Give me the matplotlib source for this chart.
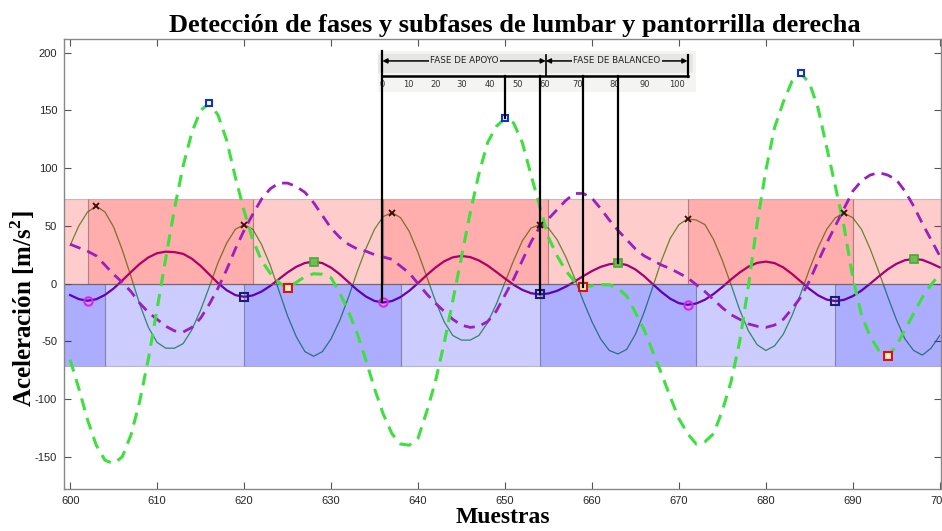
import matplotlib
matplotlib.use("Agg")
import matplotlib.pyplot as plt
from matplotlib.patches import Rectangle

plt.rcParams['mathtext.fontset'] = 'custom'
plt.rcParams['mathtext.rm'] = 'Liberation Serif:bold'
plt.rcParams['mathtext.bf'] = 'Liberation Serif:bold'
plt.rcParams['axes.unicode_minus'] = False

muestras = list(range(600, 701))

# pantorrilla (linea verde fina)
pantorrilla = [33, 50, 62, 67, 62, 49, 29, 6, -18, -38,
               -51, -56, -56, -52, -40, -23, -3, 18, 35, 47,
               51, 47, 34, 16, -6, -28, -46, -59, -63, -59,
               -48, -32, -12, 10, 30, 47, 58, 61.5, 57, 45,
               27, 6, -15, -33, -45, -49, -49, -45, -34, -18,
               1, 20, 37, 48, 51, 48, 38, 23, 5, -15,
               -33, -48, -58, -61, -57, -44, -25, -3, 20, 39,
               51, 56, 55, 51, 38, 20, -1, -23, -41, -53,
               -58, -54, -44, -28, -9, 12, 31, 47, 57, 61,
               57, 47, 30, 10, -11, -31, -48, -58, -62, -56,
               -45]

# lumbar (linea morada gruesa)
lumbar = [-10, -13.5, -14.9, -13.6, -9.9, -4.3, 2.7, 10, 17, 22.6,
          26.3, 27.6, 27.2, 25.7, 21.5, 15.3, 7.9, 0.4, -5.8, -10,
          -11.5, -10.3, -7, -2.1, 3.8, 9.6, 14.5, 17.8, 19, 17.7,
          13.8, 8.1, 1.3, -5.5, -11.2, -15.1, -16.4, -15.2, -11.7, -6.3,
          0.3, 7.3, 13.8, 19.2, 22.7, 23.9, 22.9, 20, 15.6, 10.1,
          4.4, -1.1, -5.5, -8.4, -9.4, -8.6, -6.3, -2.7, 1.7, 6.4,
          10.8, 14.4, 16.7, 17.5, 16.1, 12.2, 6.4, -0.5, -7.3, -13.1,
          -17, -18.4, -17.3, -14, -9, -3, 3.6, 9.6, 14.6, 17.9,
          19, 17.7, 14, 8.4, 1.9, -4.6, -10.2, -13.9, -15.2, -14.1,
          -10.9, -6.1, -0.1, 6.2, 12.2, 17, 20.2, 21.3, 20.5, 17.5,
          14]

# pantorrilla 2 (verde discontinua)
pantorrilla_d = [-66, -91, -118, -140, -153, -156, -150, -131, -102, -65,
                 -22, 22, 65, 102, 131, 150, 156, 146, 124, 92,
                 63, 38, 20, 9, 1, -4, 1, 6, 8.5, 8,
                 5, -8, -24, -43, -66, -91, -113, -130, -139, -140,
                 -134, -111, -85, -52, -15, 23, 61, 95, 122, 136,
                 143, 139, 122, 94, 67, 40, 24, 11, 2, -3,
                 -2, -1, -1, -4, -11, -25, -40, -59, -78, -98,
                 -117, -130, -139, -137, -130, -110, -85, -50, -2, 52,
                 98, 135, 157, 175, 182, 174, 152, 118, 84, 49,
                 5, -27, -46, -58, -63, -54, -40, -26, -12, -1,
                 8]

# lumbar 2 (morada discontinua)
lumbar_d = [34, 31, 28, 24, 16, 8, 1, -7, -17, -25,
            -31, -37, -41, -42, -38, -30, -18, -4, 12, 30,
            46, 60, 73, 82, 87, 87, 84, 79, 70, 59,
            48, 40, 34, 30, 28, 25, 23, 21, 15, 9,
            0, -9, -17, -24, -31, -36, -38, -37, -33, -24,
            -10, 4, 20, 36, 49, 56, 64, 72, 78, 78,
            74, 65, 55, 46, 38, 30, 24, 20, 16, 13,
            9, 5, -1, -7, -14, -21, -27, -31, -35, -37,
            -38, -36, -31, -22, -12, 2, 19, 35, 50, 65,
            80, 89, 94, 96, 94, 90, 80, 67, 52, 38,
            24]

# fases
bordes_rojo = [599, 602, 621, 636, 655, 671, 690, 701]
bordes_azul = [599, 604, 620, 638, 654, 672, 688, 701]
umbral_sup = 73.5
umbral_inf = -71

# eventos detectados
pico_pant = [603, 620, 637, 654, 671, 689]
valle_lumbar_o = [602, 636, 671]
valle_lumbar_s = [620, 654, 688]
pico_lumbar = [628, 663, 697]
pico_pant_d = [616, 650, 684]
valle_pant_d = [625, 659, 694]
lineas_evento = [650, 654, 659, 663]

# esquema del ciclo de marcha
ciclo_x = [635.9, 638.9, 642.0, 645.0, 648.3, 651.5, 654.6, 658.4, 662.6, 666.1, 669.8]
ciclo_lbl = ['0', '10', '20', '30', '40', '50', '60', '70', '80', '90', '100']


def val(serie, m):
    return serie[muestras.index(m)]


fig = plt.figure(figsize=(9.42, 5.31), dpi=100)
ax = fig.add_axes([0.068, 0.079, 0.931, 0.848])

ax.plot(muestras, pantorrilla, color=(0.25, 0.65, 0.25), lw=0.9, zorder=1)
ax.plot(muestras, lumbar, color=(0.55, 0.0, 0.58), lw=1.6, zorder=1)

for i in range(len(bordes_rojo) - 1):
    a = 0.2 if i % 2 == 0 else 0.32
    ax.add_patch(Rectangle((bordes_rojo[i], 0), bordes_rojo[i + 1] - bordes_rojo[i], umbral_sup,
                           facecolor=(1, 0, 0, a), edgecolor=(0.35, 0.3, 0.3, 0.3), lw=0.8, zorder=2))
for i in range(len(bordes_azul) - 1):
    a = 0.32 if i % 2 == 0 else 0.2
    ax.add_patch(Rectangle((bordes_azul[i], umbral_inf), bordes_azul[i + 1] - bordes_azul[i], -umbral_inf,
                           facecolor=(0, 0, 1, a), edgecolor=(0.3, 0.3, 0.35, 0.3), lw=0.8, zorder=2))
ax.axhline(0, color=(0.35, 0.35, 0.4), lw=0.9, alpha=0.6, zorder=2)

ax.plot(muestras, lumbar_d, color='#9a1fc0', lw=2, ls=(0, (4, 2.6)), zorder=3)
ax.plot(muestras, pantorrilla_d, color='#3ee03e', lw=2.2, ls=(0, (4, 2.6)), zorder=3)

ax.plot(pico_pant, [val(pantorrilla, m) for m in pico_pant], 'x', color='#3a0808', ms=4, mew=1.3, zorder=4)
ax.plot(valle_lumbar_o, [val(lumbar, m) for m in valle_lumbar_o], 'o', mfc='none', mec='#e020f0', ms=6, mew=1.5, zorder=4)
ax.plot(valle_lumbar_s, [val(lumbar, m) for m in valle_lumbar_s], 's', mfc='none', mec='#1c1c70', ms=5.5, mew=1.5, zorder=4)
ax.plot(pico_lumbar, [val(lumbar, m) for m in pico_lumbar], 's', mfc='#70c050', mec='#48a838', ms=5.5, mew=1.2, zorder=4)
ax.plot(pico_pant_d, [val(pantorrilla_d, m) for m in pico_pant_d], 's', mfc='white', mec='#1030d0', ms=5, mew=1.5, zorder=4)
ax.plot(valle_pant_d, [val(pantorrilla_d, m) for m in valle_pant_d], 's', mfc='#f0f0c0', mec='#e01010', ms=5.5, mew=1.5, zorder=4)

# esquema fase de apoyo / balanceo
top, base, cab = 201, 179.7, 192.8
ax.add_patch(Rectangle((635.4, 166), 36.6, top - 166, facecolor='#f4f4f2', edgecolor='none', zorder=5))
ax.add_patch(Rectangle((635.4, 182), 36.2, 16.5, facecolor='#e6e6e4', edgecolor='none', zorder=5))
ax.plot([635.9, 635.9], [top, val(lumbar, 636)], color='black', lw=1.6, zorder=7)
for m in lineas_evento:
    serie = pantorrilla_d if m in pico_pant_d + valle_pant_d else lumbar
    ax.plot([m, m], [base, val(serie, m)], color='black', lw=1.6, zorder=7)
ax.plot([635.9, 671], [base, base], color='black', lw=1.8, zorder=7)
ax.plot([654.7, 654.7], [base, 198], color='black', lw=1.2, zorder=7)
ax.plot([671, 671], [178.6, 198], color='black', lw=1.6, zorder=7)
for x0, x1, txt in [(635.9, 654.7, 'FASE DE APOYO'), (654.7, 671, 'FASE DE BALANCEO')]:
    ax.annotate('', xy=(x0, cab), xytext=(x1, cab),
                arrowprops=dict(arrowstyle='<|-|>', color='black', lw=1.1, mutation_scale=7,
                                shrinkA=0, shrinkB=0), zorder=6)
    ax.text((x0 + x1) / 2, cab, txt, ha='center', va='center', fontsize=6.3,
            family='DejaVu Sans', color='#222222',
            bbox=dict(boxstyle='square,pad=0.15', fc='#e6e6e4', ec='none'), zorder=6)
for x, t in zip(ciclo_x, ciclo_lbl):
    ax.text(x, 172.5, t, ha='center', va='center', fontsize=6, family='DejaVu Sans',
            color='#333333', zorder=6)

ax.set_xlim(599.3, 700.15)
ax.set_ylim(-178, 212)
ax.set_xticks(range(600, 701, 10))
ax.set_yticks(range(-150, 201, 50))
ax.tick_params(direction='in', length=5, width=0.8, color='#555555', top=True, right=True,
               labelsize=8, labelcolor='#262626', pad=5)
for t in ax.get_xticklabels() + ax.get_yticklabels():
    t.set_family('Liberation Sans')
for s in ax.spines.values():
    s.set_color('#888888')
    s.set_linewidth(1)

ax.set_title('Detección de fases y subfases de lumbar y pantorrilla derecha',
             family='Liberation Serif', fontweight='bold', fontsize=19, pad=5, x=0.514)
ax.set_xlabel('Muestras', family='Liberation Serif', fontweight='bold', fontsize=17, labelpad=1)
ax.set_ylabel(r'Aceleración [m/s$^\mathbf{2}$]', family='Liberation Serif', fontweight='bold', fontsize=18)
ax.yaxis.set_label_coords(-0.031, 0.40)

fig.savefig('out.png', dpi=100)
